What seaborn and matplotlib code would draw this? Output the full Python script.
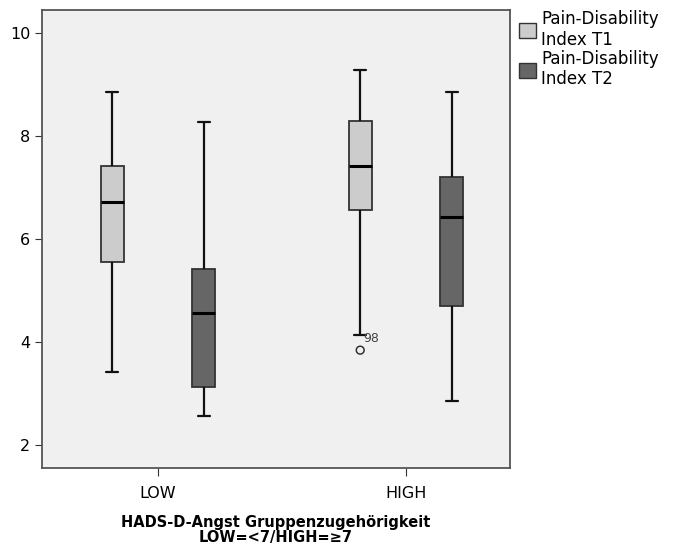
import matplotlib
matplotlib.use("Agg")
import matplotlib.pyplot as plt
import matplotlib.patches as mpatches
import seaborn as sns
import pandas as pd

# Data: five-number summaries (min whisker, Q1, median, Q3, max whisker)
groups = ["LOW", "HIGH"]
series = ["Pain-Disability\nIndex T1", "Pain-Disability\nIndex T2"]
low_t1 = [3.42, 5.56, 6.71, 7.42, 8.85]
low_t2 = [2.56, 3.13, 4.56, 5.41, 8.28]
high_t1 = [4.13, 6.56, 7.42, 8.29, 9.28]
high_t2 = [2.85, 4.70, 6.42, 7.20, 8.85]
outlier_value = 3.84
outlier_label = "98"
yticks = [2, 4, 6, 8, 10]

rows = []
for g, s, vals in [("LOW", series[0], low_t1), ("LOW", series[1], low_t2),
                   ("HIGH", series[0], high_t1), ("HIGH", series[1], high_t2)]:
    for v in vals:
        rows.append({"group": g, "series": s, "value": v})
df = pd.DataFrame(rows)

sns.set_style("ticks")
plt.rcParams["font.family"] = ["DejaVu Sans"]
plt.rcParams["text.color"] = "black"
plt.rcParams["xtick.labelcolor"] = "black"
plt.rcParams["ytick.labelcolor"] = "black"
plt.rcParams["axes.labelcolor"] = "black"

fig = plt.figure(figsize=(6.73, 5.5), dpi=100)
ax = fig.add_axes([42 / 673, 82 / 550, 468 / 673, 458 / 550])
ax.set_facecolor("#F0F0F0")

colors = {series[0]: "#CCCCCC", series[1]: "#666666"}
sns.boxplot(data=df, x="group", y="value", hue="series", order=groups,
            hue_order=series, palette=colors, width=0.74, gap=0.75,
            whis=(0, 100), linecolor="#333333", linewidth=1.3,
            medianprops=dict(color="black", linewidth=2.2),
            whiskerprops=dict(color="#111111", linewidth=1.6),
            capprops=dict(color="#111111", linewidth=1.6),
            legend=False, ax=ax)

# outlier position: taken from the HIGH / T1 box median line drawn by seaborn
medians = [l for l in ax.lines if l.get_linewidth() == 2.2]
xs = sorted([(sum(l.get_xdata()) / 2) for l in medians])
x_out = xs[2]
ax.scatter([x_out], [outlier_value], s=32, facecolor="none", edgecolor="#333333",
           linewidth=1.1, zorder=5)
ax.annotate(outlier_label, (x_out, outlier_value), xytext=(2.5, 6),
            textcoords="offset points", fontsize=9, color="#444444")

ax.set_xlim(-0.468, 1.419)
ax.set_ylim(1.55, 10.45)
ax.set_yticks(yticks)
ax.set_yticklabels([str(t) for t in yticks], fontsize=11.5)
ax.tick_params(axis="x", labelsize=11.5, length=6, color="#333333", pad=7)
ax.tick_params(axis="y", length=5, color="#333333")
for sp in ax.spines.values():
    sp.set_visible(True)
    sp.set_color("#555555")
    sp.set_linewidth(1.3)
ax.set_ylabel("")
ax.set_xlabel("HADS-D-Angst Gruppenzugehörigkeit\nLOW=<7/HIGH=≥7",
              fontsize=10.5, fontweight="bold", linespacing=1.0, labelpad=10)

handles = [mpatches.Patch(facecolor=colors[s], edgecolor="#333333", linewidth=1.0, label=s)
           for s in series]
ax.legend(handles=handles, loc="upper left", bbox_to_anchor=(1.02, 1.0), frameon=False,
          fontsize=12, handlelength=1.0, handleheight=1.0, handletextpad=0.3,
          labelspacing=0.05, borderaxespad=0.0, borderpad=0.0)

fig.savefig("out.png", dpi=100)
